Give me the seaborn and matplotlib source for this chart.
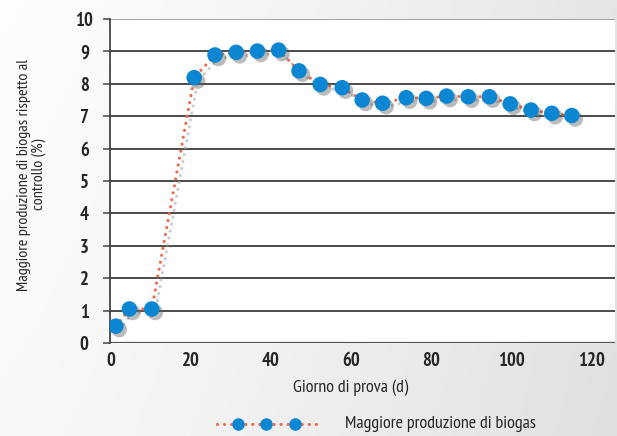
import numpy as np
import pandas as pd
import matplotlib
matplotlib.use("Agg")
import matplotlib.pyplot as plt
import matplotlib.patheffects as pe
from matplotlib import font_manager
import seaborn as sns

# ---- data ----
giorni = [1.2, 4.6, 10.2, 20.8, 26.0, 31.3, 36.6, 41.9, 47.0, 52.3, 57.8, 62.8,
          67.9, 73.8, 78.8, 83.9, 89.3, 94.6, 99.8, 105.0, 110.2, 115.2]
produzione = [0.52, 1.05, 1.05, 8.19, 8.89, 8.97, 9.01, 9.04, 8.40, 7.98, 7.88, 7.50,
              7.40, 7.57, 7.55, 7.62, 7.60, 7.60, 7.38, 7.19, 7.09, 7.02]
x_ticks = [0, 20, 40, 60, 80, 100, 120]
y_ticks = list(range(0, 11))
serie = "Maggiore produzione di biogas"

df = pd.DataFrame({"giorno": giorni, "valore": produzione})

sns.set_theme(style="white")
avail = {f.name for f in font_manager.fontManager.ttflist}
fam = "PT Sans Narrow" if "PT Sans Narrow" in avail else "DejaVu Sans"
plt.rcParams['font.family'] = [fam, 'DejaVu Sans']

fig = plt.figure(figsize=(6.17, 4.36), dpi=100)

# background gradient
bg = fig.add_axes([0, 0, 1, 1], zorder=-10)
gx = np.linspace(0, 1, 200)
gy = np.linspace(0, 1, 200)
GX, GY = np.meshgrid(gx, gy)
G = 0.99 - 0.095 * GX ** 1.3 - 0.02 * GY
bg.imshow(G, cmap="gray", vmin=0, vmax=1, aspect="auto", extent=[0, 1, 0, 1], origin="upper")
bg.axis("off")

ax = fig.add_axes([110/617, 1 - 343/436, 505/617, 324/436])
ax.set_facecolor("white")

red = "#ee6a4a"
blue = "#0a86d2"
dots = (0, (0.01, 2.2))

sns.lineplot(data=df, x="giorno", y="valore", ax=ax, color=red, linewidth=2.3,
             linestyle=dots, dash_capstyle="round", zorder=3,
             path_effects=[pe.SimpleLineShadow(offset=(2.5, -2.5), shadow_color="#aaaaaa", alpha=0.6),
                           pe.Normal()])
sns.scatterplot(data=df, x="giorno", y="valore", ax=ax, color=blue, s=125,
                edgecolor="none", zorder=4, legend=False,
                path_effects=[pe.SimplePatchShadow(offset=(2.5, -2.5), shadow_rgbFace="#555555", alpha=0.4),
                              pe.Normal()])

ax.set_xlim(-0.25, 126)
ax.set_ylim(0, 10)
ax.set_xticks(x_ticks)
ax.set_yticks(y_ticks)
ax.set_xticklabels([str(t) for t in x_ticks], fontsize=13.5, fontweight="bold")
ax.set_yticklabels([str(t) for t in y_ticks], fontsize=13.5, fontweight="bold", ha="center")
for y in y_ticks[1:]:
    ax.axhline(y, color="#888888" if y == 10 else "#1a1a1a", linewidth=1.1, zorder=1)
ax.axhline(0, color="#555555", linewidth=1.6, zorder=2)

for s in ["top", "right", "bottom"]:
    ax.spines[s].set_visible(False)
ax.spines["left"].set_color("#444444")
ax.spines["left"].set_linewidth(1.3)
ax.tick_params(axis="y", which="both", left=True, length=5, width=1.1, color="#444444", pad=13.5)
ax.tick_params(axis="x", bottom=False, length=0, pad=6.5)

ax.set_xlabel("Giorno di prova (d)", fontsize=13)
ax.set_ylabel("Maggiore produzione di biogas rispetto al\ncontrollo (%)", fontsize=11.6,
              linespacing=1.05, multialignment="center")
ax.xaxis.set_label_coords(0.477, -0.112)
ax.yaxis.set_label_coords(-0.127, 0.52)

# legend (drawn in a small figure-level axes)
lg = fig.add_axes([0, 0, 1, 1], zorder=5)
lg.set_xlim(0, 617)
lg.set_ylim(436, 0)
lg.axis("off")
lg.plot([217, 320], [424, 424], color=red, linewidth=2.3, linestyle=dots, dash_capstyle="round")
lg.plot([238, 266, 295], [424, 424, 424], linestyle="none", marker="o", markersize=9,
        color=blue, markeredgecolor="none")
lg.text(345, 424, serie, fontsize=13, va="center", ha="left")

fig.savefig("out.png", dpi=100)
